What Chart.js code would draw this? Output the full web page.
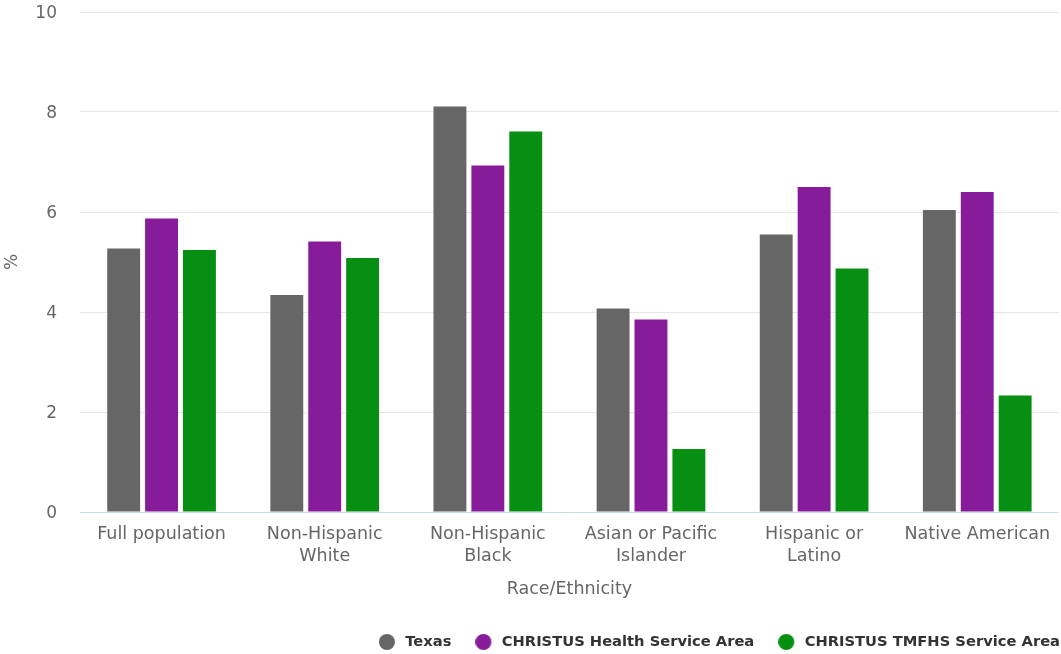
<!DOCTYPE html>
<html>
<head>
<meta charset="utf-8">
<script src="https://cdn.jsdelivr.net/npm/chart.js@4"></script>
<style>
  html, body { margin: 0; padding: 0; background: #fff; }
  #wrap { width: 1061px; height: 654px; }
</style>
</head>
<body>
<div id="wrap"><canvas id="raceChart"></canvas></div>
<script>
// categories on the x axis (multi-line labels)
const categories = [
    ['Full population'],
    ['Non-Hispanic', 'White'],
    ['Non-Hispanic', 'Black'],
    ['Asian or Pacific', 'Islander'],
    ['Hispanic or', 'Latino'],
    ['Native American']
];

// percent values per area
const texasValues = [5.27, 4.34, 8.11, 4.07, 5.55, 6.04];
const christusHealthValues = [5.87, 5.41, 6.93, 3.85, 6.50, 6.40];
const christusTmfhsValues = [5.24, 5.08, 7.61, 1.26, 4.87, 2.33];

const seriesNames = ['Texas', 'CHRISTUS Health Service Area', 'CHRISTUS TMFHS Service Area'];
const seriesColors = ['#666666', '#871c9b', '#068f13'];
const yTicks = [0, 2, 4, 6, 8, 10];

const FONT = "'DejaVu Sans', sans-serif";

function makeDataset(label, values, color) {
    return {
        label: label,
        data: values,
        backgroundColor: color,
        borderWidth: 0,
        barPercentage: 0.868,
        categoryPercentage: 0.697
    };
}

// legend marker: 16px dot on a slightly wider canvas so the text sits a bit further away
function makeDot(color) {
    const c = document.createElement('canvas');
    c.width = 19;
    c.height = 16;
    const g = c.getContext('2d');
    g.fillStyle = color;
    g.beginPath();
    g.arc(8, 8, 8, 0, Math.PI * 2);
    g.fill();
    return c;
}
const dots = seriesColors.map(makeDot);

// push the legend row flush to the right edge
const legendShift = {
    id: 'legendShift',
    afterLayout(chart) {
        chart.legend.left += 23;
        chart.legend.right += 23;
    }
};

const ctx = document.getElementById('raceChart').getContext('2d');
new Chart(ctx, {
    type: 'bar',
    data: {
        labels: categories,
        datasets: [
            makeDataset(seriesNames[0], texasValues, seriesColors[0]),
            makeDataset(seriesNames[1], christusHealthValues, seriesColors[1]),
            makeDataset(seriesNames[2], christusTmfhsValues, seriesColors[2])
        ]
    },
    plugins: [legendShift],
    options: {
        responsive: true,
        maintainAspectRatio: false,
        animation: false,
        layout: {
            padding: { top: 12, left: 0, right: 0, bottom: -5.35 }
        },
        plugins: {
            tooltip: { enabled: false },
            legend: {
                position: 'bottom',
                align: 'end',
                labels: {
                    usePointStyle: true,
                    pointStyleWidth: 19,
                    boxHeight: 11.3,
                    padding: 24,
                    color: '#333333',
                    font: { family: FONT, size: 14.7, weight: 'bold' },
                    generateLabels: function (chart) {
                        const items = Chart.defaults.plugins.legend.labels.generateLabels(chart);
                        items.forEach((it, i) => { it.pointStyle = dots[i]; });
                        return items;
                    }
                }
            }
        },
        scales: {
            x: {
                afterFit: function (scale) { scale.height = 98.65; },
                grid: { display: false, drawTicks: false },
                border: { display: false },
                ticks: {
                    color: '#666666',
                    padding: 11,
                    maxRotation: 0,
                    autoSkip: false,
                    font: { family: FONT, size: 17.5, lineHeight: 1.27 }
                },
                title: {
                    display: true,
                    text: 'Race/Ethnicity',
                    color: '#666666',
                    padding: { top: 4, bottom: 10.2 },
                    font: { family: FONT, size: 17.5, lineHeight: 1.2 }
                }
            },
            y: {
                min: 0,
                max: 10,
                afterFit: function (scale) {
                    scale.width = 80;
                    scale.paddingTop = 0;
                    scale.paddingBottom = 0;
                },
                afterBuildTicks: function (scale) {
                    scale.ticks = yTicks.map(v => ({ value: v }));
                },
                grid: {
                    drawTicks: false,
                    color: c => (c.tick && c.tick.value === 0) ? '#ccd6eb' : '#e6e6e6'
                },
                border: { display: false },
                ticks: {
                    color: '#666666',
                    padding: 23,
                    labelOffset: 2,
                    font: { family: FONT, size: 17 }
                },
                title: {
                    display: true,
                    text: '%',
                    color: '#666666',
                    padding: { top: 2, bottom: 2 },
                    font: { family: FONT, size: 17, lineHeight: 1.2 }
                }
            }
        }
    }
});
</script>
</body>
</html>
